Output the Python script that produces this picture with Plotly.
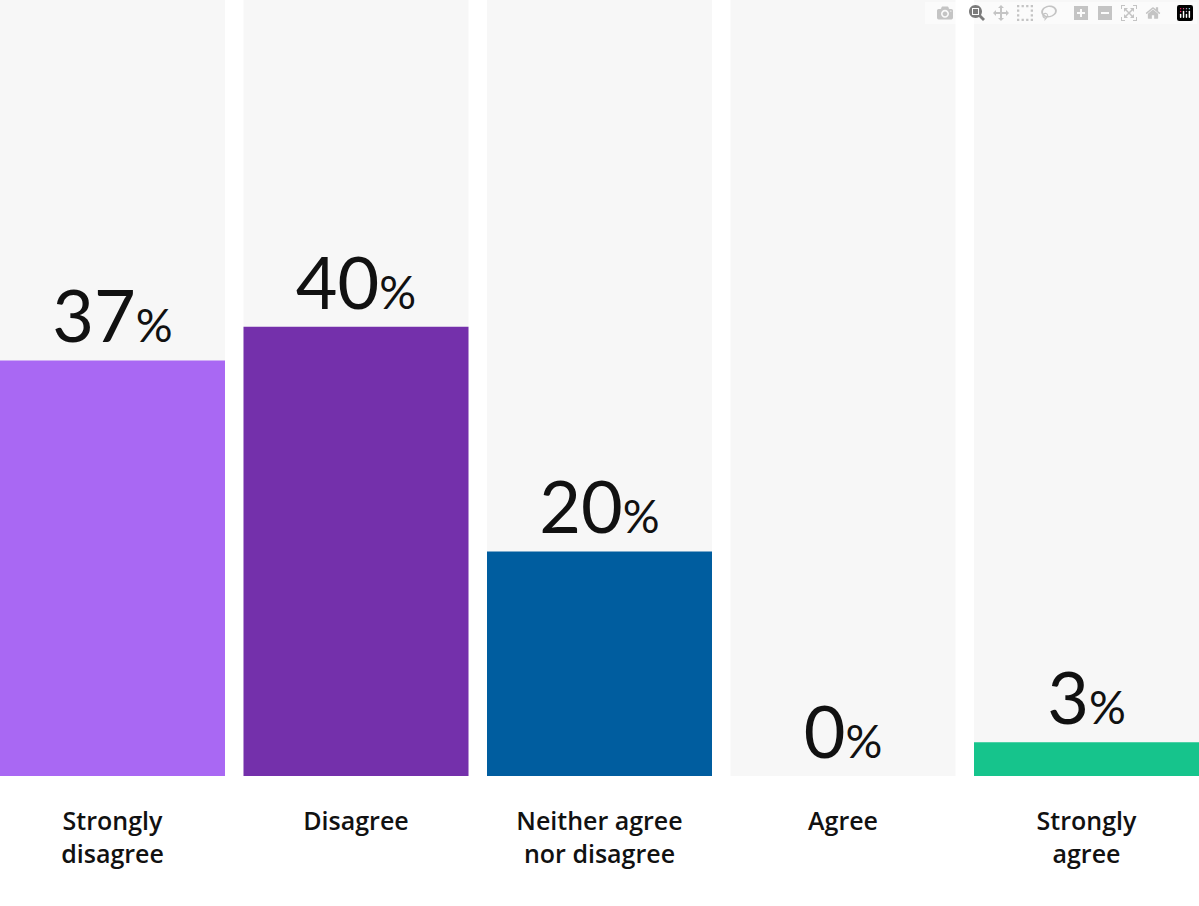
import plotly.graph_objects as go

# Survey answers
categories = ["Strongly<br>disagree", "Disagree", "Neither agree<br>nor disagree", "Agree", "Strongly<br>agree"]
values = [37, 40, 20, 0, 3]
bar_colors = ["#A968F3", "#7430AB", "#005D9F", "#F7F7F7", "#16C48C"]

y_max = 69.1
bar_w = 0.924
positions = list(range(len(categories)))

labels = [f"{v}<span style='font-size:46px'>%</span>" for v in values]

fig = go.Figure()

# gray background columns
fig.add_trace(go.Bar(
    x=positions, y=[y_max] * len(values), width=bar_w,
    marker=dict(color="#F7F7F7", line=dict(width=0)),
    hoverinfo="skip", showlegend=False,
))

fig.add_trace(go.Bar(
    x=positions, y=values, width=bar_w,
    marker=dict(color=bar_colors, line=dict(width=0)),
    text=labels, textposition="outside", cliponaxis=False,
    textfont=dict(family="Lato", size=72, color="#111111"),
    constraintext="none",
    hoverinfo="skip", showlegend=False,
))

fig.update_layout(
    width=1199, height=906,
    barmode="overlay",
    margin=dict(l=0, r=0, t=0, b=130),
    plot_bgcolor="white", paper_bgcolor="white",
    xaxis=dict(
        range=[-bar_w / 2, 4 + bar_w / 2],
        tickvals=positions, ticktext=categories,
        tickfont=dict(family="Open Sans", size=25, color="#111111", weight=600),
        showgrid=False, zeroline=False, showline=False, ticks="",
        ticklabelstandoff=28,
    ),
    yaxis=dict(range=[0, y_max], visible=False),
)

# page has a default body margin; drop it so the figure sits at the corner
fig.write_html("out.html", post_script="document.body.style.margin='0';")
